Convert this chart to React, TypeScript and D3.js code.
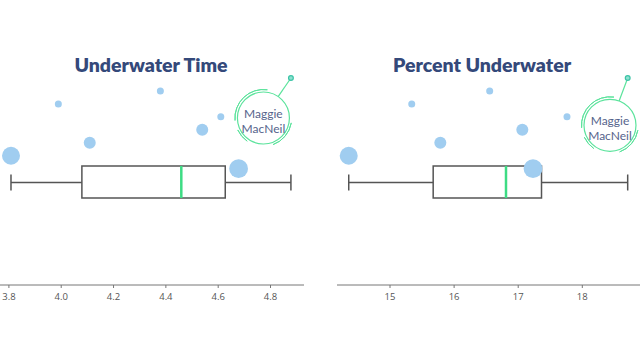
import React from "react";
import * as d3 from "d3";

// Final ranking order (1 = Maggie MacNeil) — values per swimmer
const ranks = [1, 2, 3, 4, 5, 6, 7, 8];
const underwaterTime = [4.878, 4.379, 3.989, 4.61, 4.539, 4.109, 3.808, 4.678];
const percentUnderwater = [18.708, 16.555, 15.339, 17.761, 17.064, 15.785, 14.356, 17.231];
const dotSizes = [0, 3.5, 3.5, 3.5, 6, 6, 9, 9.4];
const leftTicks = [3.8, 4.0, 4.2, 4.4, 4.6, 4.8];
const rightTicks = [15, 16, 17, 18];
const titles = ["Underwater Time", "Percent Underwater"];
const annotationName = ["Maggie", "MacNeil"];

const W = 640;
const H = 360;
const AXIS_Y = 285;
const BOX_TOP = 166;
const BOX_BOT = 198;

const yScale = d3.scaleLinear().domain([1, 8]).range([78, 168.7]);

type PanelProps = {
  values: number[];
  x: d3.ScaleLinear<number, number>;
  ticks: number[];
  tickFmt: (v: number) => string;
  title: string;
  titleX: number;
  ann: { dx: number; dy: number };
};

function Panel({ values, x, ticks, tickFmt, title, titleX, ann }: PanelProps) {
  const sorted = values.slice().sort(d3.ascending);
  const q1 = d3.quantile(sorted, 0.25)!;
  const med = d3.quantile(sorted, 0.5)!;
  const q3 = d3.quantile(sorted, 0.75)!;
  const mn = d3.min(sorted)!;
  const mx = d3.max(sorted)!;
  const midY = (BOX_TOP + BOX_BOT) / 2 + 0.5;
  const [r0, r1] = x.range();

  // annotation
  const ax = x(values[0]);
  const ay = yScale(ranks[0]);
  const cx = ax + ann.dx;
  const cy = ay + ann.dy;
  const R = 26;
  const len = Math.hypot(ann.dx, ann.dy);
  const ex = cx - (ann.dx / len) * R;
  const ey = cy - (ann.dy / len) * R;
  const green = "#5be39c";
  const arc = d3.arc();
  const deg = Math.PI / 180;
  const arcs = [
    { r: 28.5, s: -95, e: 8 },
    { r: 28.3, s: 100, e: 160 },
    { r: 28.3, s: 215, e: 245 },
  ];

  return (
    <g>
      <text
        x={titleX}
        y={72}
        textAnchor="middle"
        fontFamily="Lato, 'Open Sans', sans-serif"
        fontWeight={800}
        fontSize={19.5}
        fill="#34497a"
      >
        {title}
      </text>
      {/* axis */}
      <line x1={r0} x2={r1} y1={AXIS_Y} y2={AXIS_Y} stroke="#777" strokeWidth={1} />
      {ticks.map((t) => (
        <g key={t} transform={`translate(${x(t)},${AXIS_Y})`}>
          <line y1={0} y2={3} stroke="#777" />
          <text
            y={15}
            textAnchor="middle"
            fontFamily="'Open Sans', sans-serif"
            fontSize={9.5}
            fill="#555"
          >
            {tickFmt(t)}
          </text>
        </g>
      ))}
      {/* box plot */}
      <line x1={x(mn)} x2={x(q1)} y1={midY} y2={midY} stroke="#555" strokeWidth={1.5} />
      <line x1={x(q3)} x2={x(mx)} y1={midY} y2={midY} stroke="#555" strokeWidth={1.5} />
      <line x1={x(mn)} x2={x(mn)} y1={midY - 8} y2={midY + 8} stroke="#555" strokeWidth={1.5} />
      <line x1={x(mx)} x2={x(mx)} y1={midY - 8} y2={midY + 8} stroke="#555" strokeWidth={1.5} />
      <rect
        x={x(q1)}
        y={BOX_TOP}
        width={x(q3) - x(q1)}
        height={BOX_BOT - BOX_TOP}
        fill="none"
        stroke="#555"
        strokeWidth={1.5}
      />
      <line x1={x(med)} x2={x(med)} y1={BOX_TOP} y2={BOX_BOT} stroke="#3ddc84" strokeWidth={2.5} />
      {/* dots */}
      {values.map((v, i) =>
        i === 0 ? null : (
          <circle key={i} cx={x(v)} cy={yScale(ranks[i])} r={dotSizes[i]} fill="#a0cdf0" />
        )
      )}
      {/* annotation */}
      <line x1={ax} y1={ay} x2={ex} y2={ey} stroke={green} strokeWidth={1.2} />
      <circle cx={cx} cy={cy} r={R} fill="none" stroke={green} strokeWidth={1.2} />
      {arcs.map((a, i) => (
        <path
          key={i}
          transform={`translate(${cx},${cy})`}
          d={
            arc({
              innerRadius: a.r,
              outerRadius: a.r,
              startAngle: a.s * deg,
              endAngle: a.e * deg,
            }) || ""
          }
          fill="none"
          stroke={green}
          strokeWidth={1}
        />
      ))}
      <circle cx={ax} cy={ay} r={2.4} fill="#8fe0d0" stroke="#3cc4a6" strokeWidth={1.2} />
      <text
        x={cx}
        textAnchor="middle"
        fontFamily="Lato, 'Open Sans', sans-serif"
        fontSize={12}
        fill="#56648c"
      >
        <tspan x={cx} y={cy}>{annotationName[0]}</tspan>
        <tspan x={cx} y={cy + 14.5}>{annotationName[1]}</tspan>
      </text>
    </g>
  );
}

export default function App() {
  const xLeft = d3.scaleLinear().domain([3.766, 4.928]).range([0, 304]);
  const xRight = d3.scaleLinear().domain([14.173, 18.9]).range([337, 640]);
  return (
    <svg
      width={W}
      height={H}
      style={{ position: "absolute", left: 0, top: 0, background: "#fff" }}
    >
      <Panel
        values={underwaterTime}
        x={xLeft}
        ticks={leftTicks}
        tickFmt={d3.format(".1f")}
        title={titles[0]}
        titleX={151}
        ann={{ dx: -27.5, dy: 40 }}
      />
      <Panel
        values={percentUnderwater}
        x={xRight}
        ticks={rightTicks}
        tickFmt={d3.format("d")}
        title={titles[1]}
        titleX={482}
        ann={{ dx: -17.7, dy: 47.3 }}
      />
    </svg>
  );
}
